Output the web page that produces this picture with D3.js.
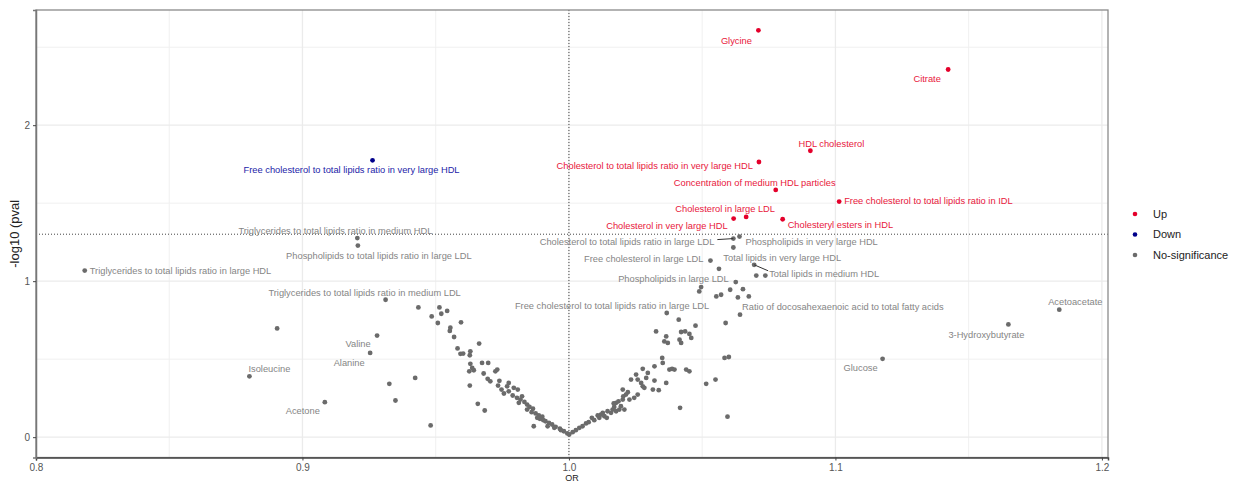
<!DOCTYPE html>
<html>
<head>
<meta charset="utf-8">
<script src="https://cdn.jsdelivr.net/npm/d3@7"></script>
<style>
  body { margin: 0; background: #fff; }
  text { font-family: "Liberation Sans", Arial, sans-serif; }
</style>
</head>
<body>
<svg id="chart"></svg>
<script>
// labelled metabolites: odds ratio and -log10(p)
var labelNames = [
  "Glycine", "Citrate", "HDL cholesterol",
  "Cholesterol to total lipids ratio in very large HDL",
  "Concentration of medium HDL particles",
  "Free cholesterol to total lipids ratio in IDL",
  "Cholesterol in large LDL", "Cholesterol in very large HDL",
  "Cholesteryl esters in HDL",
  "Free cholesterol to total lipids ratio in very large HDL",
  "Triglycerides to total lipids ratio in large HDL",
  "Triglycerides to total lipids ratio in medium HDL",
  "Phospholipids to total lipids ratio in large LDL",
  "Triglycerides to total lipids ratio in medium LDL",
  "Valine", "Alanine", "Isoleucine", "Acetone",
  "Cholesterol to total lipids ratio in large LDL",
  "Phospholipids in very large HDL",
  "Free cholesterol in large LDL",
  "Total lipids in very large HDL",
  "Total lipids in medium HDL",
  "Phospholipids in large LDL",
  "Free cholesterol to total lipids ratio in large LDL",
  "Ratio of docosahexaenoic acid to total fatty acids",
  "Glucose", "3-Hydroxybutyrate", "Acetoacetate"
];
var labelOR = [
  1.0711, 1.1423, 1.0906, 1.0713, 1.0776, 1.1014, 1.0665, 1.0618, 1.0802,
  0.9263, 0.8183, 0.9206, 0.9208, 0.9312, 0.9280, 0.9254, 0.8801, 0.9084,
  1.0617, 1.0640, 1.0531, 1.0617, 1.0695, 1.0626, 1.0489, 1.0642,
  1.1177, 1.1649, 1.1840
];
var labelLogP = [
  2.608, 2.357, 1.836, 1.764, 1.585, 1.510, 1.412, 1.401, 1.397,
  1.775, 1.068, 1.276, 1.228, 0.881, 0.651, 0.540, 0.390, 0.224,
  1.273, 1.286, 1.132, 1.216, 1.105, 0.994, 0.934, 0.785,
  0.502, 0.723, 0.817
];

// the other metabolites (not labelled)
var otherOR = [
  0.8905, 0.9435, 0.9514, 0.9543, 0.9485, 0.9521, 0.9508, 0.9595, 0.9555, 0.9553,
  0.9569, 0.9582, 0.9593, 0.9603, 0.9630, 0.9628, 0.9663, 0.9630, 0.9637, 0.9626,
  0.9643, 0.9423, 0.9326, 0.9349, 0.9628, 0.9658, 0.9481, 0.9674, 0.9697, 0.9680,
  0.9684, 0.9724, 0.9731, 0.9695, 0.9705, 0.9739, 0.9734, 0.9747, 0.9774, 0.9768,
  0.9756, 0.9774, 0.9793, 0.9808, 0.9789, 0.9805, 0.9818, 0.9824, 0.9833, 0.9843,
  0.9852, 0.9865, 0.9812, 0.9860, 0.9875, 0.9887, 0.9900, 0.9891, 0.9904, 0.9868,
  0.9912, 0.9925, 0.9937, 0.9950, 0.9966, 0.9981, 0.9994, 0.9881, 0.9843, 0.9920,
  0.9945, 0.9970,
  1.0001, 1.0014, 1.0026, 1.0039, 1.0051, 1.0064, 1.0074, 1.0086, 1.0095, 1.0108,
  1.0114, 1.0120, 1.0127, 1.0133, 1.0142, 1.0158, 1.0164, 1.0170, 1.0177, 1.0168,
  1.0189, 1.0195, 1.0202, 1.0204, 1.0208, 1.0202, 1.0214, 1.0221, 1.0227, 1.0245,
  1.0258, 1.0233, 1.0252, 1.0258, 1.0271, 1.0277, 1.0283, 1.0277, 1.0290, 1.0296,
  1.0315, 1.0337, 1.0321, 1.0321, 1.0365, 1.0350, 1.0352, 1.0377, 1.0387, 1.0396,
  1.0440, 1.0452, 1.0417, 1.0327, 1.0365, 1.0371, 1.0358, 1.0367, 1.0412, 1.0421,
  1.0436, 1.0415, 1.0421, 1.0452, 1.0459, 1.0475, 1.0515, 1.0550, 1.0588, 1.0584,
  1.0600, 1.0595, 1.0563, 1.0703, 1.0737, 1.0496, 1.0605, 1.0653, 1.0571, 1.0553,
  1.0634, 1.0675, 1.0186, 1.0145, 1.0177
];
var otherLogP = [
  0.697, 0.832, 0.832, 0.809, 0.774, 0.791, 0.732, 0.736, 0.702, 0.681,
  0.642, 0.569, 0.534, 0.536, 0.550, 0.525, 0.600, 0.470, 0.444, 0.422,
  0.429, 0.380, 0.342, 0.235, 0.331, 0.214, 0.075, 0.476, 0.476, 0.408,
  0.171, 0.422, 0.433, 0.374, 0.358, 0.361, 0.331, 0.305, 0.348, 0.326,
  0.280, 0.294, 0.316, 0.305, 0.267, 0.252, 0.241, 0.262, 0.226, 0.209,
  0.194, 0.182, 0.220, 0.160, 0.152, 0.139, 0.131, 0.118, 0.109, 0.070,
  0.102, 0.092, 0.081, 0.066, 0.054, 0.038, 0.024, 0.124, 0.177, 0.070,
  0.060, 0.045,
  0.017, 0.032, 0.045, 0.060, 0.070, 0.088, 0.096, 0.124, 0.109, 0.139,
  0.124, 0.145, 0.156, 0.134, 0.124, 0.156, 0.177, 0.194, 0.220, 0.216,
  0.177, 0.198, 0.241, 0.262, 0.177, 0.305, 0.273, 0.288, 0.241, 0.252,
  0.273, 0.369, 0.401, 0.369, 0.348, 0.326, 0.316, 0.438, 0.380, 0.412,
  0.305, 0.301, 0.363, 0.454, 0.348, 0.508, 0.476, 0.433, 0.438, 0.433,
  0.433, 0.422, 0.188, 0.678, 0.646, 0.604, 0.614, 0.796, 0.753, 0.674,
  0.678, 0.625, 0.604, 0.662, 0.636, 0.715, 0.342, 0.369, 0.732, 0.508,
  0.514, 0.131, 1.079, 1.036, 1.036, 0.962, 0.945, 0.949, 0.913, 0.902,
  0.896, 0.902, 0.230, 0.166, 0.166
];

var groups = ["Up", "Down", "No-significance"];
var pThreshold = 0.05;
var xTicks = [0.8, 0.9, 1.0, 1.1, 1.2];
var yTicks = [0, 1, 2];

// label placement (pixel nudges, like ggrepel output): [dx, dy, anchor]
var labelNudge = [
  [-22, 10, "middle"], [-21, 9, "middle"], [21, -7, "middle"],
  [-6, 4, "end"], [-21, -7, "middle"], [5, -1, "start"],
  [-21, -8, "middle"], [-6, 7, "end"], [5, 6, "start"],
  [-21, 9, "middle"], [5, 0, "start"], [-22, -7, "middle"],
  [21, 10, "middle"], [-21, -7, "middle"], [-19, 8, "middle"],
  [-21, 10, "middle"], [20, -8, "middle"], [-22, 9, "middle"],
  [-19, 3, "end"], [6, 5, "start"], [-7, -2, "end"],
  [-10, 10, "start"], [15, 9, "start"], [-7, -3, "end"],
  [10, 14, "end"], [2, -8, "start"],
  [-22, 9, "middle"], [-22, 10, "middle"], [16, -8, "middle"]
];
// connector segments for two repelled labels: [labelIndex, dx1, dy1]
var labelSegments = [[18, -16, 1], [22, 14, 6]];

var width = 1235, height = 482,
    margin = {top: 10, right: 127, bottom: 24.5, left: 36};

var colour = d3.scaleOrdinal()
    .domain(groups)
    .range(["#e4002b", "#00008b", "#6b6b6b"]);
var textColour = d3.scaleOrdinal()
    .domain(groups)
    .range(["#e8173c", "#1c1ca8", "#858585"]);

var cut = -Math.log10(pThreshold);
function groupOf(or, lp) {
    if (lp > cut && or > 1) return "Up";
    if (lp > cut && or < 1) return "Down";
    return "No-significance";
}

var points = otherOR.map(function (d, i) {
    return {or: d, lp: otherLogP[i], name: null};
}).concat(labelNames.map(function (d, i) {
    return {or: labelOR[i], lp: labelLogP[i], name: d, idx: i};
}));
points.forEach(function (d) { d.group = groupOf(d.or, d.lp); });

// ggplot style 5% expansion
function expand(ext) {
    var pad = (ext[1] - ext[0]) * 0.05;
    return [ext[0] - pad, ext[1] + pad];
}
var x = d3.scaleLinear()
    .domain(expand(d3.extent(points, function (d) { return d.or; })))
    .range([margin.left, width - margin.right]);
var y = d3.scaleLinear()
    .domain(expand(d3.extent(points.concat([{lp: 0}]), function (d) { return d.lp; })))
    .range([height - margin.bottom, margin.top]);

var svg = d3.select("#chart")
    .attr("width", width)
    .attr("height", height);

var x0 = margin.left, x1 = width - margin.right,
    y0 = margin.top, y1 = height - margin.bottom;

// grid
var grid = svg.append("g");
var minorX = [0.85, 0.95, 1.05, 1.15], minorY = [0.5, 1.5, 2.5];
grid.selectAll(".mx").data(minorX).enter().append("line")
    .attr("x1", x).attr("x2", x).attr("y1", y0).attr("y2", y1)
    .attr("stroke", "#f0f0f0").attr("stroke-width", 1);
grid.selectAll(".my").data(minorY).enter().append("line")
    .attr("y1", y).attr("y2", y).attr("x1", x0).attr("x2", x1)
    .attr("stroke", "#f0f0f0").attr("stroke-width", 1);
grid.selectAll(".gx").data(xTicks).enter().append("line")
    .attr("x1", x).attr("x2", x).attr("y1", y0).attr("y2", y1)
    .attr("stroke", "#ebebeb").attr("stroke-width", 1.3);
grid.selectAll(".gy").data(yTicks).enter().append("line")
    .attr("y1", y).attr("y2", y).attr("x1", x0).attr("x2", x1)
    .attr("stroke", "#ebebeb").attr("stroke-width", 1.3);

// reference lines
svg.append("line")
    .attr("x1", x0).attr("x2", x1)
    .attr("y1", y(cut)).attr("y2", y(cut))
    .attr("stroke", "#444").attr("stroke-width", 1)
    .attr("stroke-dasharray", "1,2");
svg.append("line")
    .attr("x1", x(1)).attr("x2", x(1))
    .attr("y1", y0).attr("y2", y1)
    .attr("stroke", "#444").attr("stroke-width", 1)
    .attr("stroke-dasharray", "1,2");

// points
svg.append("g").selectAll("circle")
    .data(points)
    .enter().append("circle")
    .attr("cx", function (d) { return x(d.or); })
    .attr("cy", function (d) { return y(d.lp); })
    .attr("r", 2.4)
    .attr("fill", function (d) { return colour(d.group); });

// segments
var labelled = points.filter(function (d) { return d.name; });
labelSegments.forEach(function (s) {
    var d = labelled[s[0]];
    svg.append("line")
        .attr("x1", x(d.or) + s[1]).attr("y1", y(d.lp) + s[2])
        .attr("x2", x(d.or)).attr("y2", y(d.lp))
        .attr("stroke", "#333").attr("stroke-width", 1);
});

// labels
svg.append("g").selectAll("text")
    .data(labelled)
    .enter().append("text")
    .attr("x", function (d) { return x(d.or) + labelNudge[d.idx][0]; })
    .attr("y", function (d) { return y(d.lp) + labelNudge[d.idx][1]; })
    .attr("dy", "0.35em")
    .attr("text-anchor", function (d) { return labelNudge[d.idx][2]; })
    .attr("font-size", "9.3px")
    .attr("fill", function (d) { return textColour(d.group); })
    .text(function (d) { return d.name; });

// panel border
svg.append("rect")
    .attr("x", x0).attr("y", y0)
    .attr("width", x1 - x0).attr("height", y1 - y0)
    .attr("fill", "none").attr("stroke", "#8a8a8a").attr("stroke-width", 1.3);

// axes
var xAxis = svg.append("g")
    .attr("transform", "translate(0," + y1 + ")")
    .call(d3.axisBottom(x).tickValues(xTicks).tickFormat(d3.format(".1f"))
        .tickSize(3).tickPadding(3));
var yAxis = svg.append("g")
    .attr("transform", "translate(" + x0 + ",0)")
    .call(d3.axisLeft(y).tickValues(yTicks).tickFormat(d3.format("d"))
        .tickSize(3).tickPadding(3));
[xAxis, yAxis].forEach(function (a) {
    a.select(".domain").attr("stroke", "#444").attr("stroke-width", 1.5);
    a.selectAll(".tick line").attr("stroke", "#444");
    a.selectAll(".tick text").attr("fill", "#555").attr("font-size", "10px")
        .attr("font-family", "Liberation Sans, Arial, sans-serif");
});
yAxis.select(".domain").attr("stroke", "#777");

// axis titles
svg.append("text")
    .attr("transform", "translate(19," + (y0 + y1) / 2 + ") rotate(-90)")
    .attr("text-anchor", "middle")
    .attr("font-size", "13px")
    .attr("fill", "#222")
    .text("-log10 (pval");
svg.append("text")
    .attr("x", (x0 + x1) / 2)
    .attr("y", 481)
    .attr("text-anchor", "middle")
    .attr("font-size", "9px")
    .attr("fill", "#222")
    .text("OR");

// legend
var legend = svg.append("g").selectAll("g")
    .data(groups)
    .enter().append("g")
    .attr("transform", function (d, i) { return "translate(1135," + (214 + i * 20.5) + ")"; });
legend.append("circle")
    .attr("r", 2.3)
    .attr("fill", function (d) { return colour(d); });
legend.append("text")
    .attr("x", 18)
    .attr("dy", "0.35em")
    .attr("font-size", "11px")
    .attr("fill", "#222")
    .text(function (d) { return d; });
</script>
</body>
</html>
